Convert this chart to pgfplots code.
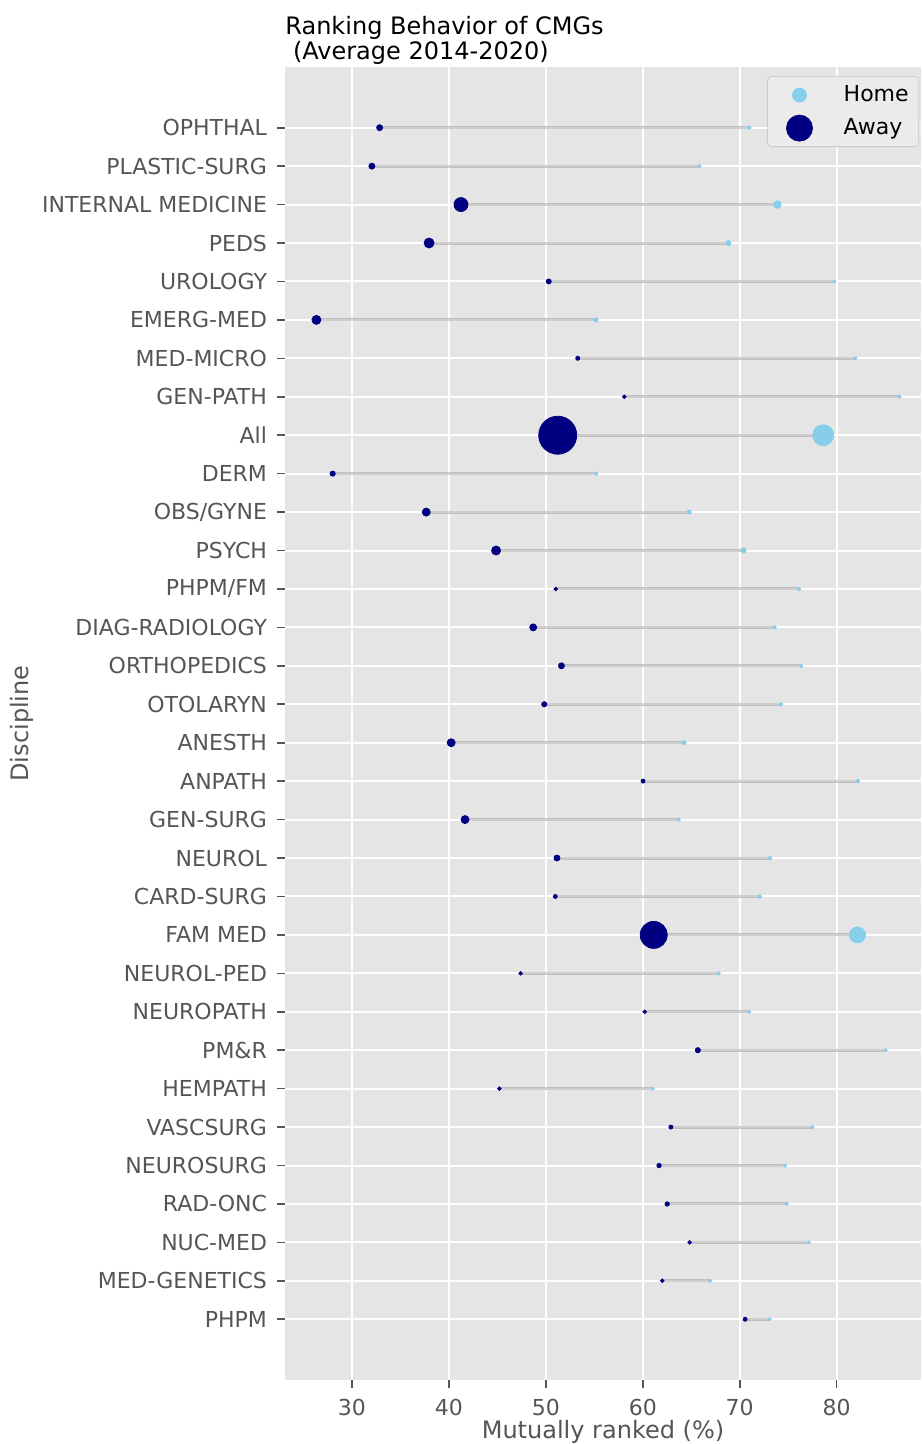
\documentclass[border=0pt]{standalone}
\usepackage{fontspec}
\setmainfont{DejaVu Sans}
\usepackage{pgfplots}
\usepackage{pgfplotstable}
\pgfplotsset{compat=1.18}
\definecolor{bgc}{HTML}{E5E5E5}
\definecolor{homec}{HTML}{87CEEB}
\definecolor{awayc}{HTML}{000080}
\definecolor{tickc}{HTML}{555555}
\definecolor{legc}{HTML}{EBEBEB}
\definecolor{legd}{HTML}{CCCCCC}

\pgfplotstableread{
y away home sa sh
31 32.86 70.99 1.5 0.9
30 32.06 65.85 1.5 0.9
29 41.25 73.89 3.5 1.9
28 37.96 68.84 2.5 1.25
27 50.30 79.75 1.25 0.8
26 26.34 55.19 2.25 1.0
25 53.29 81.94 1.0 0.8
24 58.10 86.49 0.9 0.8
23 51.23 78.61 9.5 5.25
22 28.02 55.19 1.3 0.9
21 37.67 64.79 2.0 1.0
20 44.87 70.40 2.25 1.25
19 51.02 76.12 0.9 0.9
18 48.70 73.60 1.75 0.9
17 51.61 76.34 1.5 0.9
16 49.84 74.27 1.3 0.9
15 40.24 64.25 2.0 1.0
14 60.03 82.19 1.0 0.9
13 41.67 63.70 2.0 0.9
12 51.15 73.13 1.5 0.9
11 50.98 72.08 1.0 0.9
10 61.13 82.15 6.75 4.0
9 47.40 67.83 0.9 0.8
8 60.20 70.99 0.9 0.8
7 65.68 85.06 1.3 0.8
6 45.21 61.04 0.9 0.8
5 62.90 77.51 1.0 0.8
4 61.68 74.69 1.1 0.8
3 62.52 74.86 1.1 0.8
2 64.84 77.14 0.9 0.8
1 62.01 66.94 0.9 0.8
0 70.56 73.09 1.0 0.8
}\data

\begin{document}
\begin{tikzpicture}
\path[use as bounding box] (0,0) rectangle (461pt,722pt);
\begin{axis}[
  at={(142.5pt,32pt)}, anchor=south west,
  width=318pt, height=656.5pt, scale only axis,
  xmin=23.1, xmax=88.7, ymin=-1.58, ymax=32.58,
  axis background/.style={fill=bgc},
  axis line style={draw=none},
  grid=major, major grid style={white, line width=1pt},
  tick align=outside, major tick length=4pt,
  xtick pos=bottom, ytick pos=left,
  tick style={color=tickc, line width=0.8pt},
  xtick={30,40,50,60,70,80},
  ytick={0,1,...,31},
  yticklabels={PHPM,MED-GENETICS,NUC-MED,RAD-ONC,NEUROSURG,VASCSURG,HEMPATH,PM\&R,NEUROPATH,NEUROL-PED,FAM MED,CARD-SURG,NEUROL,GEN-SURG,ANPATH,ANESTH,OTOLARYN,ORTHOPEDICS,DIAG-RADIOLOGY,PHPM/FM,PSYCH,OBS/GYNE,DERM,All,GEN-PATH,MED-MICRO,EMERG-MED,UROLOGY,PEDS,INTERNAL MEDICINE,PLASTIC-SURG,OPHTHAL},
  /pgf/number format/assume math mode=true,
  ticklabel style={font=\fontsize{11}{13}\selectfont, text=tickc},
  xticklabel style={yshift=-2pt},
  yticklabel style={xshift=-1.5pt},
  xlabel={Mutually ranked (\%)},
  ylabel={Discipline},
  label style={font=\fontsize{12}{14}\selectfont, text=tickc},
  xlabel style={at={(axis description cs:0.5,0)}, anchor=center, yshift=-26pt},
  ylabel style={at={(axis description cs:-0.4135,0.5)}, anchor=center},
  title={Ranking Behavior of CMGs\\\hspace*{0.318em}(Average 2014-2020)},
  title style={at={(axis description cs:0,1)}, anchor=south west, align=left, inner sep=0pt, yshift=-5pt, font=\fontsize{12}{12.5}\selectfont},
  legend style={at={(rel axis cs:0.997,0.993)}, anchor=north east, fill=legc, draw=legd, rounded corners=2pt, font=\fontsize{11}{13}\selectfont, row sep=3pt, inner xsep=3pt, inner ysep=2.5pt},
  legend cell align=left,
]
\addplot[scatter, only marks, mark=*,
  scatter/use mapped color={draw=homec, fill=homec},
  visualization depends on={\thisrow{sh} \as \msize},
  scatter/@pre marker code/.append style={/tikz/mark size=\msize},
  legend image code/.code={\fill[homec] (0.45cm,0cm) circle (3.5pt); \path (0cm,0cm) (1.15cm,0cm);}]
  table[x=home, y=y] {\data};
\addlegendentry{Home}
\addplot[scatter, only marks, mark=*,
  scatter/use mapped color={draw=awayc, fill=awayc},
  visualization depends on={\thisrow{sa} \as \msize},
  scatter/@pre marker code/.append style={/tikz/mark size=\msize},
  legend image code/.code={\fill[awayc] (0.45cm,0cm) circle (6.5pt); \path (0cm,0cm) (1.15cm,0cm);}]
  table[x=away, y=y] {\data};
\addlegendentry{Away}
\addplot[draw=none, mark=none, forget plot,
  error bars/.cd, x dir=minus, x explicit, error mark=none,
  error bar style={line width=1.5pt, gray, opacity=0.38}]
  table[x=home, y=y, x error expr=\thisrow{home}-\thisrow{away}] {\data};
\end{axis}
\end{tikzpicture}
\end{document}
